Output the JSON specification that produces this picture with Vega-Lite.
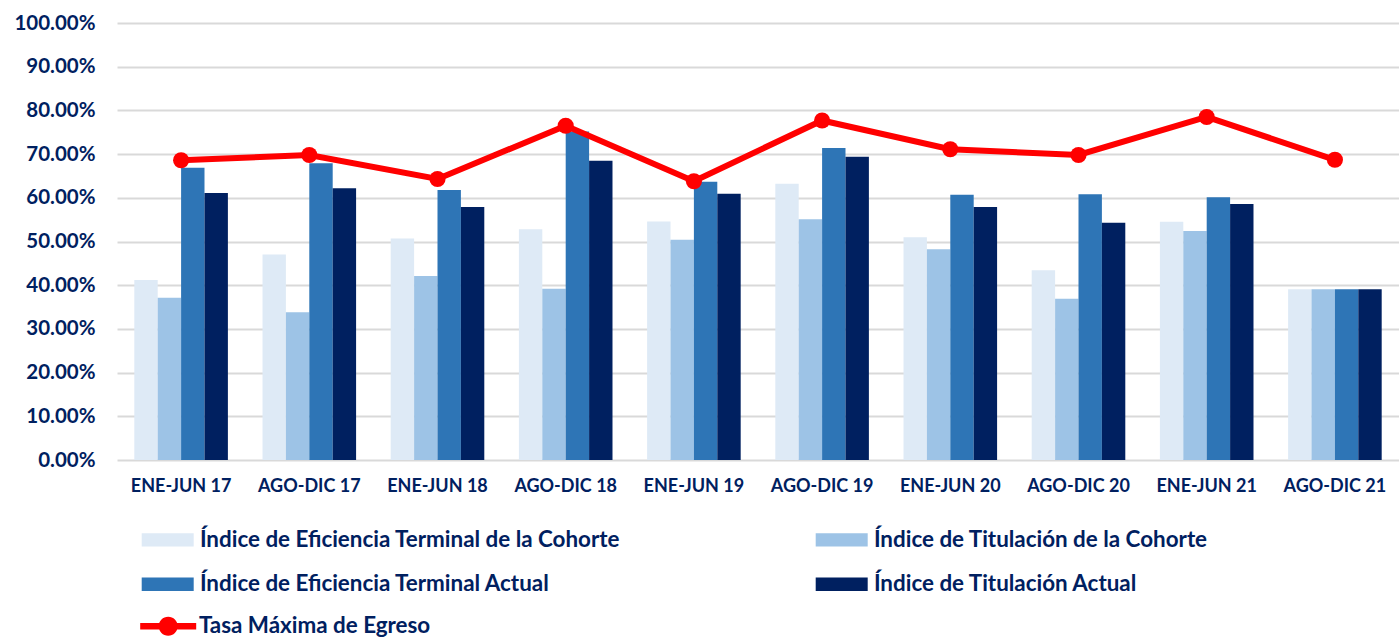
{
  "$schema": "https://vega.github.io/schema/vega-lite/v6.json",
  "width": 1282,
  "height": 437,
  "autosize": {"type": "none"},
  "padding": {"left": 117, "top": 23, "right": 0, "bottom": 177},
  "background": "white",
  "config": {
    "view": {"stroke": null},
    "font": "Lato",
    "axis": {"labelFont": "Lato", "labelFontWeight": "bold", "labelColor": "#002060"},
    "legend": {"labelFont": "Lato", "labelFontWeight": "bold", "labelColor": "#002060"}
  },
  "datasets": {
    "barras": [
      {"periodo": "ENE-JUN 17", "serie": "Índice de Eficiencia Terminal de la Cohorte", "valor": 0.412},
      {"periodo": "ENE-JUN 17", "serie": "Índice de Titulación de la Cohorte", "valor": 0.371},
      {"periodo": "ENE-JUN 17", "serie": "Índice de Eficiencia Terminal Actual", "valor": 0.669},
      {"periodo": "ENE-JUN 17", "serie": "Índice de Titulación Actual", "valor": 0.611},
      {"periodo": "AGO-DIC 17", "serie": "Índice de Eficiencia Terminal de la Cohorte", "valor": 0.470},
      {"periodo": "AGO-DIC 17", "serie": "Índice de Titulación de la Cohorte", "valor": 0.338},
      {"periodo": "AGO-DIC 17", "serie": "Índice de Eficiencia Terminal Actual", "valor": 0.679},
      {"periodo": "AGO-DIC 17", "serie": "Índice de Titulación Actual", "valor": 0.622},
      {"periodo": "ENE-JUN 18", "serie": "Índice de Eficiencia Terminal de la Cohorte", "valor": 0.507},
      {"periodo": "ENE-JUN 18", "serie": "Índice de Titulación de la Cohorte", "valor": 0.421},
      {"periodo": "ENE-JUN 18", "serie": "Índice de Eficiencia Terminal Actual", "valor": 0.618},
      {"periodo": "ENE-JUN 18", "serie": "Índice de Titulación Actual", "valor": 0.579},
      {"periodo": "AGO-DIC 18", "serie": "Índice de Eficiencia Terminal de la Cohorte", "valor": 0.528},
      {"periodo": "AGO-DIC 18", "serie": "Índice de Titulación de la Cohorte", "valor": 0.392},
      {"periodo": "AGO-DIC 18", "serie": "Índice de Eficiencia Terminal Actual", "valor": 0.752},
      {"periodo": "AGO-DIC 18", "serie": "Índice de Titulación Actual", "valor": 0.685},
      {"periodo": "ENE-JUN 19", "serie": "Índice de Eficiencia Terminal de la Cohorte", "valor": 0.546},
      {"periodo": "ENE-JUN 19", "serie": "Índice de Titulación de la Cohorte", "valor": 0.504},
      {"periodo": "ENE-JUN 19", "serie": "Índice de Eficiencia Terminal Actual", "valor": 0.637},
      {"periodo": "ENE-JUN 19", "serie": "Índice de Titulación Actual", "valor": 0.609},
      {"periodo": "AGO-DIC 19", "serie": "Índice de Eficiencia Terminal de la Cohorte", "valor": 0.632},
      {"periodo": "AGO-DIC 19", "serie": "Índice de Titulación de la Cohorte", "valor": 0.551},
      {"periodo": "AGO-DIC 19", "serie": "Índice de Eficiencia Terminal Actual", "valor": 0.714},
      {"periodo": "AGO-DIC 19", "serie": "Índice de Titulación Actual", "valor": 0.694},
      {"periodo": "ENE-JUN 20", "serie": "Índice de Eficiencia Terminal de la Cohorte", "valor": 0.510},
      {"periodo": "ENE-JUN 20", "serie": "Índice de Titulación de la Cohorte", "valor": 0.482},
      {"periodo": "ENE-JUN 20", "serie": "Índice de Eficiencia Terminal Actual", "valor": 0.607},
      {"periodo": "ENE-JUN 20", "serie": "Índice de Titulación Actual", "valor": 0.579},
      {"periodo": "AGO-DIC 20", "serie": "Índice de Eficiencia Terminal de la Cohorte", "valor": 0.434},
      {"periodo": "AGO-DIC 20", "serie": "Índice de Titulación de la Cohorte", "valor": 0.369},
      {"periodo": "AGO-DIC 20", "serie": "Índice de Eficiencia Terminal Actual", "valor": 0.608},
      {"periodo": "AGO-DIC 20", "serie": "Índice de Titulación Actual", "valor": 0.543},
      {"periodo": "ENE-JUN 21", "serie": "Índice de Eficiencia Terminal de la Cohorte", "valor": 0.545},
      {"periodo": "ENE-JUN 21", "serie": "Índice de Titulación de la Cohorte", "valor": 0.524},
      {"periodo": "ENE-JUN 21", "serie": "Índice de Eficiencia Terminal Actual", "valor": 0.601},
      {"periodo": "ENE-JUN 21", "serie": "Índice de Titulación Actual", "valor": 0.586},
      {"periodo": "AGO-DIC 21", "serie": "Índice de Eficiencia Terminal de la Cohorte", "valor": 0.391},
      {"periodo": "AGO-DIC 21", "serie": "Índice de Titulación de la Cohorte", "valor": 0.391},
      {"periodo": "AGO-DIC 21", "serie": "Índice de Eficiencia Terminal Actual", "valor": 0.391},
      {"periodo": "AGO-DIC 21", "serie": "Índice de Titulación Actual", "valor": 0.391}
    ],
    "linea": [
      {"periodo": "ENE-JUN 17", "serie": "Tasa Máxima de Egreso", "valor": 0.686},
      {"periodo": "AGO-DIC 17", "serie": "Tasa Máxima de Egreso", "valor": 0.698},
      {"periodo": "ENE-JUN 18", "serie": "Tasa Máxima de Egreso", "valor": 0.643},
      {"periodo": "AGO-DIC 18", "serie": "Tasa Máxima de Egreso", "valor": 0.765},
      {"periodo": "ENE-JUN 19", "serie": "Tasa Máxima de Egreso", "valor": 0.638},
      {"periodo": "AGO-DIC 19", "serie": "Tasa Máxima de Egreso", "valor": 0.777},
      {"periodo": "ENE-JUN 20", "serie": "Tasa Máxima de Egreso", "valor": 0.711},
      {"periodo": "AGO-DIC 20", "serie": "Tasa Máxima de Egreso", "valor": 0.698},
      {"periodo": "ENE-JUN 21", "serie": "Tasa Máxima de Egreso", "valor": 0.785},
      {"periodo": "AGO-DIC 21", "serie": "Tasa Máxima de Egreso", "valor": 0.687}
    ]
  },
  "encoding": {
    "x": {
      "field": "periodo",
      "type": "nominal",
      "sort": ["ENE-JUN 17", "AGO-DIC 17", "ENE-JUN 18", "AGO-DIC 18", "ENE-JUN 19", "AGO-DIC 19", "ENE-JUN 20", "AGO-DIC 20", "ENE-JUN 21", "AGO-DIC 21"],
      "scale": {"paddingInner": 0.27, "paddingOuter": 0.135},
      "axis": {"title": null, "labelAngle": 0, "labelFontSize": 18, "labelPadding": 17, "ticks": false, "domain": false, "grid": false}
    },
    "y": {
      "field": "valor",
      "type": "quantitative",
      "scale": {"domain": [0, 1], "nice": false},
      "axis": {
        "title": null,
        "values": [0, 0.1, 0.2, 0.3, 0.4, 0.5, 0.6, 0.7, 0.8, 0.9, 1],
        "format": ".2%",
        "labelFontSize": 20.5,
        "labelPadding": 22,
        "ticks": false,
        "domain": false,
        "grid": true,
        "gridColor": "#d9d9d9",
        "gridWidth": 2,
        "gridOpacity": 1
      }
    }
  },
  "layer": [
    {
      "data": {"name": "barras"},
      "mark": {"type": "bar", "strokeWidth": 0},
      "encoding": {
        "xOffset": {
          "field": "serie",
          "type": "nominal",
          "sort": ["Índice de Eficiencia Terminal de la Cohorte", "Índice de Titulación de la Cohorte", "Índice de Eficiencia Terminal Actual", "Índice de Titulación Actual"]
        },
        "fill": {
          "field": "serie",
          "type": "nominal",
          "scale": {
            "domain": ["Índice de Eficiencia Terminal de la Cohorte", "Índice de Titulación de la Cohorte", "Índice de Eficiencia Terminal Actual", "Índice de Titulación Actual"],
            "range": ["#DEEAF6", "#9DC3E6", "#2E75B6", "#002060"]
          },
          "legend": {
            "title": null,
            "orient": "none",
            "legendX": 23.5,
            "legendY": 505.5,
            "direction": "horizontal",
            "columns": 2,
            "columnPadding": 194,
            "rowPadding": 21.5,
            "padding": 0,
            "symbolType": "M-1,-0.67L4.2,-0.67L4.2,0.67L-1,0.67Z",
            "symbolSize": 400,
            "symbolStrokeWidth": 0,
            "symbolOpacity": 1,
            "labelOffset": 37,
            "labelFontSize": 22.4,
            "labelLimit": 700
          }
        }
      }
    },
    {
      "data": {"name": "linea"},
      "mark": {"type": "line", "strokeWidth": 6},
      "encoding": {
        "stroke": {
          "field": "serie",
          "type": "nominal",
          "scale": {"domain": ["Tasa Máxima de Egreso"], "range": ["#FF0000"]},
          "legend": {
            "title": null,
            "orient": "none",
            "legendX": 22,
            "legendY": 592,
            "padding": 0,
            "symbolType": "M-1,-0.33L4.6,-0.33L4.6,0.33L-1,0.33Z M2.75,0 A0.95,0.95 0 1,1 0.85,0 A0.95,0.95 0 1,1 2.75,0Z",
            "symbolSize": 400,
            "symbolStrokeWidth": 0,
            "symbolFillColor": "#FF0000",
            "labelOffset": 37.5,
            "labelFontSize": 22.4,
            "labelLimit": 700,
            "encode": {"symbols": {"update": {"fill": {"value": "#FF0000"}, "strokeWidth": {"value": 0}, "opacity": {"value": 1}}}}
          }
        }
      }
    },
    {
      "data": {"name": "linea"},
      "mark": {"type": "circle", "color": "#FF0000", "opacity": 1, "size": 260},
      "encoding": {}
    }
  ]
}
